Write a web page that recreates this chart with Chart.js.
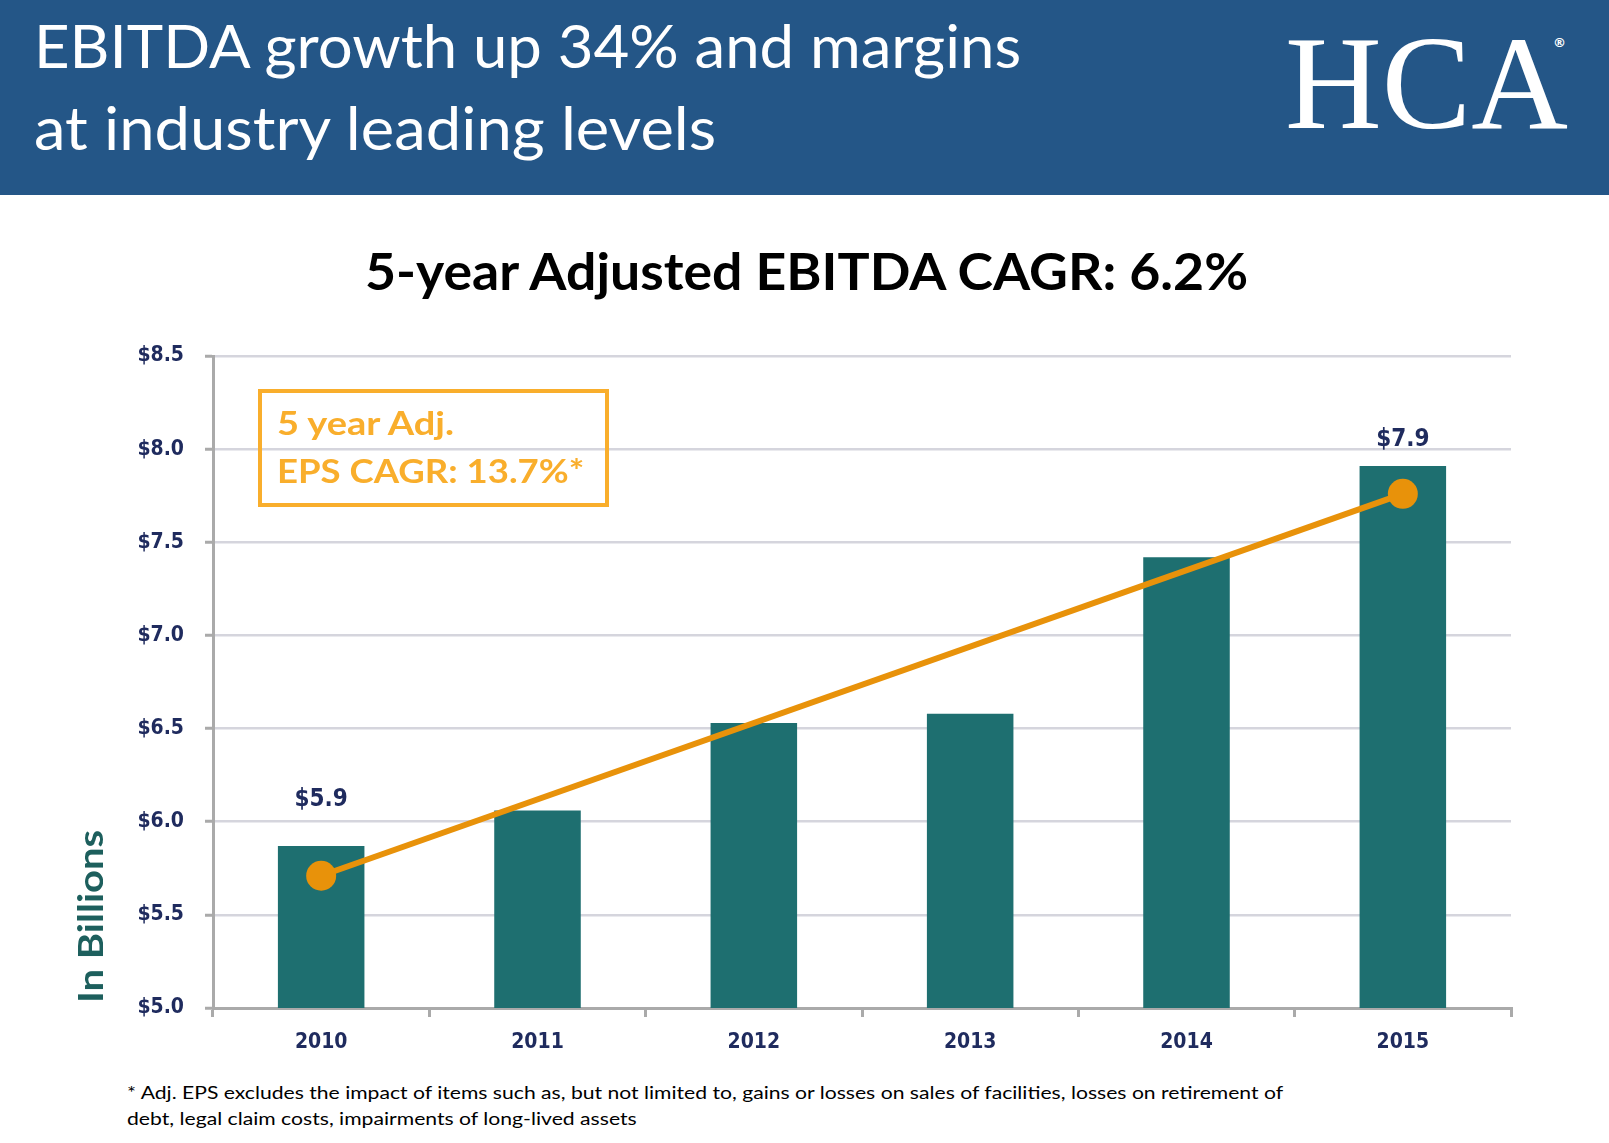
<!DOCTYPE html>
<html>
<head>
<meta charset="utf-8">
<script src="https://cdn.jsdelivr.net/npm/chart.js@4"></script>
<style>
  body { margin: 0; width: 1609px; height: 1143px; background: #fff; overflow: hidden; position: relative; font-family: Lato, "Open Sans", sans-serif; }
  .fit { position: absolute; white-space: nowrap; line-height: 1; transform-origin: 0 0; }
  #header { position: absolute; left: 0; top: 0; width: 1609px; height: 195px; background: #245687; }
  #head1, #head2 { color: #fff; font-size: 60px; left: 34px; }
  #head1 { top: 15px; }
  #head2 { top: 97px; }
  #logo { position: absolute; left: 1285px; top: 16px; color: #fff; font: 134px/1 "Liberation Serif", serif; white-space: nowrap; }
  #logoMark { position: absolute; left: 1553px; top: 36px; color: #fff; font: bold 13px/1 "DejaVu Sans", sans-serif; }
  #chartTitle { font-weight: bold; font-size: 52px; color: #000; left: 365px; top: 244px; }
  #chartWrap { position: absolute; left: 0; top: 300px; width: 1609px; height: 760px; }
  #epsBox { position: absolute; left: 258px; top: 389px; width: 351px; height: 118px; border: 4px solid #F9AE2C; box-sizing: border-box; }
  #box1, #box2 { color: #F9AE2C; font-weight: bold; font-size: 32px; left: 277px; }
  #box1 { top: 407px; }
  #box2 { top: 455px; }
  #unit { color: #1D5F5D; font-weight: bold; font-size: 34px; left: 73px; top: 1003px; }
  #note1, #note2 { color: #000; font-size: 18px; left: 127px; }
  #note1 { top: 1083px; }
  #note2 { top: 1109px; }
</style>
</head>
<body>
<div id="header"></div>
<div id="head1" class="fit">EBITDA growth up 34% and margins</div>
<div id="head2" class="fit">at industry leading levels</div>
<div id="logo">HCA</div>
<div id="logoMark">®</div>
<div id="chartTitle" class="fit">5-year Adjusted EBITDA CAGR: 6.2%</div>
<div id="chartWrap"><canvas id="ebitdaChart" width="1609" height="760"></canvas></div>
<div id="epsBox"></div>
<div id="box1" class="fit">5 year Adj.</div>
<div id="box2" class="fit">EPS CAGR: 13.7%*</div>
<div id="unit" class="fit">In Billions</div>
<div id="note1" class="fit">* Adj. EPS excludes the impact of items such as, but not limited to, gains or losses on sales of facilities, losses on retirement of</div>
<div id="note2" class="fit">debt, legal claim costs, impairments of long-lived assets</div>

<script>
// values (in billions)
const years = ['2010', '2011', '2012', '2013', '2014', '2015'];
const ebitdaValues = [5.87, 6.06, 6.53, 6.58, 7.42, 7.91];
const epsTrend = [5.71, null, null, null, null, 7.76];
const barLabels = ['$5.9', '', '', '', '', '$7.9'];
const yTickLabels = ['$5.0', '$5.5', '$6.0', '$6.5', '$7.0', '$7.5', '$8.0', '$8.5'];

const getElement = (id) => document.getElementById(id);

const navy = '#1F2B5E';
const axisGray = '#AAAAAA';
const tickFont = { family: '"DejaVu Sans Condensed", "DejaVu Sans", sans-serif', weight: 'bold', size: 21 };

// squeeze text horizontally so it spans the same width as on the slide
function fitText(id, target, rotate) {
    const el = getElement(id);
    const k = target / el.offsetWidth;
    el.style.transform = (rotate ? 'rotate(-90deg) ' : '') + `scaleX(${k})`;
}

// value labels above the first and last bar
const barValueLabels = {
    id: 'barValueLabels',
    afterDatasetsDraw(chart, args, opts) {
        const meta = chart.getDatasetMeta(1);
        const ctx = chart.ctx;
        ctx.save();
        ctx.fillStyle = navy;
        ctx.font = `bold 24px ${tickFont.family}`;
        ctx.textAlign = 'center';
        ctx.textBaseline = 'middle';
        meta.data.forEach((bar, i) => {
            if (!barLabels[i]) return;
            ctx.fillText(barLabels[i], bar.x, bar.y - opts.offsets[i]);
        });
        ctx.restore();
    }
};

function createChart() {
    const ctx = getElement('ebitdaChart').getContext('2d');
    return new Chart(ctx, {
        data: {
            labels: years,
            datasets: [
                {
                    type: 'line', label: 'Adj. EPS trend', data: epsTrend, order: 0,
                    borderColor: '#E8920A', borderWidth: 6, spanGaps: true,
                    pointRadius: 15, pointHoverRadius: 15, pointBackgroundColor: '#E8920A', pointBorderWidth: 0
                },
                {
                    type: 'bar', label: 'Adjusted EBITDA', data: ebitdaValues, order: 1,
                    backgroundColor: '#1E6F70', barPercentage: 0.8, categoryPercentage: 0.5
                }
            ]
        },
        options: {
            responsive: false,
            animation: false,
            layout: { padding: { top: 56, right: 98, left: 0, bottom: 0 } },
            plugins: {
                legend: { display: false },
                tooltip: { enabled: false },
                barValueLabels: { offsets: [46, 0, 0, 0, 0, 26] }
            },
            scales: {
                x: {
                    grid: { offset: true, drawOnChartArea: false, tickLength: 9, color: axisGray, lineWidth: 3 },
                    border: { color: axisGray, width: 3 },
                    ticks: { color: navy, font: tickFont, padding: 13 },
                    afterFit: (scale) => { scale.height = 52; }
                },
                y: {
                    min: 5, max: 8.5,
                    grid: { color: '#D5D5DD', lineWidth: 2.5, tickLength: 8, tickColor: axisGray, tickWidth: 3 },
                    border: { color: axisGray, width: 3 },
                    ticks: { stepSize: 0.5, color: navy, font: tickFont, padding: 21,
                             callback: (v, i) => yTickLabels[i] },
                    afterFit: (scale) => { scale.width = 213; }
                }
            }
        },
        plugins: [barValueLabels]
    });
}

createChart();

fitText('head1', 987);
fitText('head2', 682);
fitText('chartTitle', 883);
fitText('box1', 177);
fitText('box2', 307);
fitText('note1', 1156);
fitText('note2', 510);
fitText('unit', 173, true);
</script>
</body>
</html>
